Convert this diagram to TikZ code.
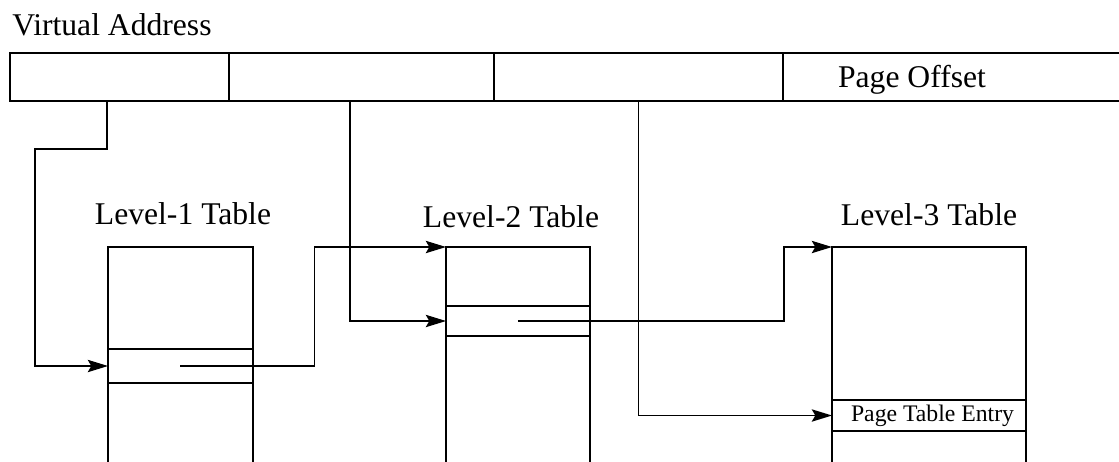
\documentclass[tikz,border=0pt]{standalone}
\usepackage{fontspec}
\setmainfont{Liberation Serif}
\usepackage{tikz}
\usetikzlibrary{arrows.meta, positioning}
\tikzset{
  field/.style={
    draw, line width=1pt, anchor=north west, inner sep=0pt, outer sep=0pt,
    minimum height=0.96cm, minimum width=#1
  },
  tbl/.style={
    draw, line width=1pt, anchor=north west, inner sep=0pt, outer sep=0pt,
    minimum height=4.6cm, minimum width=#1
  },
  entry/.style={
    draw, line width=1pt, anchor=north west, inner sep=0pt, outer sep=0pt,
    minimum width=#1, font=\fontsize{13.5}{15}\selectfont
  },
  ttl/.style={font=\fontsize{18}{20}\selectfont, anchor=base, inner sep=0pt},
  arr/.style={-{Stealth[length=11.5pt,width=7pt,inset=2pt]}, line width=1pt},
}

\begin{document}
\begin{tikzpicture}[x=0.02cm, y=-0.02cm]
  \clip (0,0) rectangle (1119,461);

  % Virtual address
  \node[ttl, anchor=base west] (va) at (12,35) {Virtual Address};
  \node[field=4.38cm] (f1) at (10,53) {};
  \node[field=5.30cm] (f2) at (229,53) {};
  \node[field=5.78cm] (f3) at (494,53) {};
  \node[field=7.00cm] (f4) at (783,53) {};
  \node[ttl] (po) at (912,87) {Page Offset};

  % Level-1
  \node[ttl] (l1) at (183,224) {Level-1 Table};
  \node[tbl=2.90cm] (t1) at (108,247) {};
  \node[entry=2.90cm, minimum height=0.68cm] (e1) at (108,349) {};

  % Level-2
  \node[ttl] (l2) at (511,227) {Level-2 Table};
  \node[tbl=2.88cm] (t2) at (446,247) {};
  \node[entry=2.88cm, minimum height=0.60cm] (e2) at (446,306) {};

  % Level-3
  \node[ttl] (l3) at (929,225) {Level-3 Table};
  \node[tbl=3.88cm] (t3) at (832,247) {};
  \node[entry=3.88cm, minimum height=0.62cm] (pte) at (832,400) {\hspace{0.3em}Page Table Entry};

  % Arrows
  \draw[arr] ([xshift=-0.25cm]f1.south) -- ++(0,48) -- ++(-72,0) |- (e1.west);
  \draw[arr] (e1.center) -- ++(134,0) |- (t2.north west);
  \draw[arr] ([xshift=-0.23cm]f2.south) |- (e2.west);
  \draw[arr] (e2.center) -- ++(266,0) |- (t3.north west);
  \draw[arr] (f3.south) |- (pte.west);
\end{tikzpicture}
\end{document}
